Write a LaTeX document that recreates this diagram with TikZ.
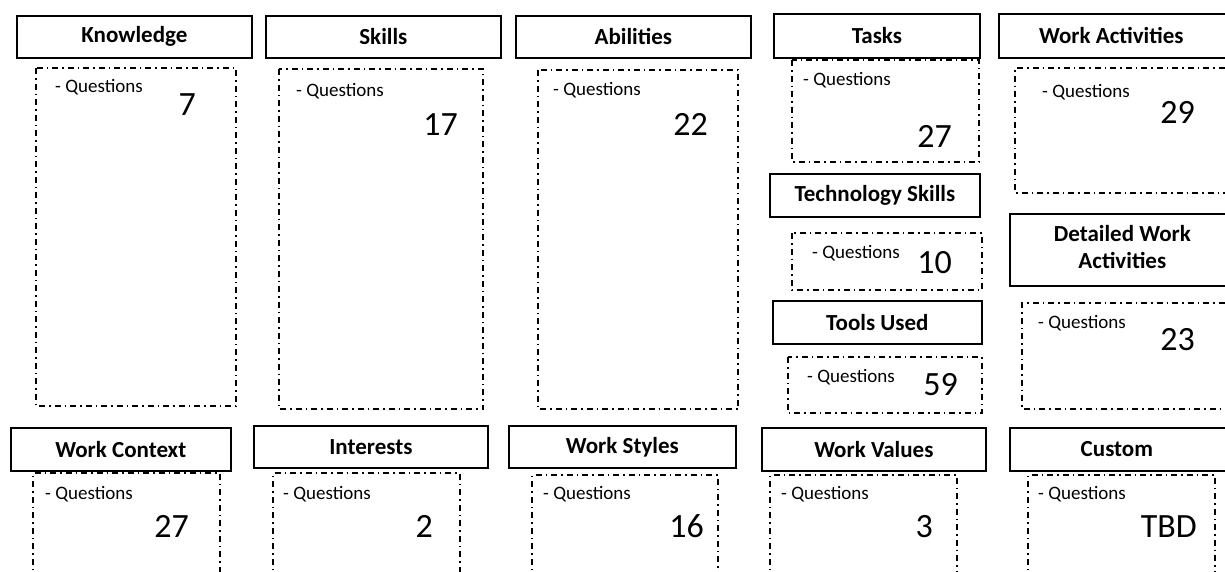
\documentclass[tikz,border=0pt]{standalone}
\usepackage{fontspec}
\setmainfont{Carlito}
\newcommand\ttlfont{\fontsize{23}{25}\selectfont\bfseries}
\begin{document}
\begin{tikzpicture}[x=1pt,y=-1pt,
  titlebox/.style={draw=black, line width=1.7pt, anchor=north west, inner sep=0pt},
  dd/.style={draw=black, line width=1.5pt, dash pattern=on 6pt off 4pt on 1.5pt off 4pt},
  qtext/.style={anchor=base west, inner sep=0pt, font=\fontsize{19}{22}\selectfont},
  num/.style={anchor=base east, inner sep=0pt, font=\fontsize{34}{38}\selectfont}]
\useasboundingbox[fill=white] (0,0) rectangle (1225,571);

% ---- Row 1 ----
\node[titlebox, minimum width=235pt, minimum height=42pt] (kT) at (16,15) {\ttlfont Knowledge};
\draw[dd] (36,68) rectangle (236,406);
\node[qtext] (kq) at (55,92) {- Questions};
\node[num] (kn) at (196,115) {7};

\node[titlebox, minimum width=235pt, minimum height=42pt] (sT) at (265,15) {\ttlfont Skills};
\draw[dd] (279,69) rectangle (483,409);
\node[qtext] (sq) at (296,96) {- Questions};
\node[num] (sn) at (458,135) {17};

\node[titlebox, minimum width=235pt, minimum height=42pt] (aT) at (515,15) {\ttlfont Abilities};
\draw[dd] (538,70) rectangle (738,409);
\node[qtext] (aq) at (553,95) {- Questions};
\node[num] (an) at (708,135) {22};

% ---- Tasks column ----
\node[titlebox, minimum width=206pt, minimum height=44pt] (tT) at (773,13) {\ttlfont Tasks};
\draw[dd] (792,60) rectangle (979,162);
\node[qtext] (tq) at (803,85) {- Questions};
\node[num] (tn) at (952,147) {27};

\node[titlebox, minimum width=210pt, minimum height=43pt] (tsT) at (769,173) {\ttlfont Technology Skills};
\draw[dd] (792,233) rectangle (982,290);
\node[qtext] (tsq) at (812,258) {- Questions};
\node[num] (tsn) at (952,273) {10};

\node[titlebox, minimum width=209pt, minimum height=43pt] (tuT) at (772,300) {\ttlfont Tools Used};
\draw[dd] (788,357) rectangle (982,413);
\node[qtext] (tuq) at (807,382) {- Questions};
\node[num] (tun) at (958,395) {59};

% ---- Work activities column (cut at right edge) ----
\node[titlebox, minimum width=240pt, minimum height=44pt] (waT) at (998,13) {\ttlfont\hspace*{-15pt}Work Activities};
\draw[dd] (1240,68) -- (1015,68) -- (1015,193) -- (1240,193);
\node[qtext] (waq) at (1042,97) {- Questions};
\node[num] (wan) at (1195,123) {29};

\node[titlebox, minimum width=240pt, minimum height=72pt] (dwT) at (1009,213) {\ttlfont\hspace*{-15pt}\begin{tabular}{@{}c@{}}Detailed Work\\[2pt]Activities\end{tabular}};
\draw[dd] (1240,303) -- (1022,303) -- (1022,409) -- (1240,409);
\node[qtext] (dwq) at (1038,328) {- Questions};
\node[num] (dwn) at (1195,350) {23};

% ---- Row 3 ----
\node[titlebox, minimum width=220pt, minimum height=43pt] (wcT) at (10,427) {\ttlfont Work Context};
\draw[dd] (33,580) -- (33,473) -- (220,473) -- (220,580);
\node[qtext] (wcq) at (45,499) {- Questions};
\node[num] (wcn) at (189,537) {27};

\node[titlebox, minimum width=234pt, minimum height=42pt] (inT) at (253,425) {\ttlfont Interests};
\draw[dd] (273,580) -- (273,473) -- (460,473) -- (460,580);
\node[qtext] (inq) at (283,499) {- Questions};
\node[num] (inn) at (433,537) {2};

\node[titlebox, minimum width=227pt, minimum height=42pt] (wsT) at (508,425) {\ttlfont Work Styles};
\draw[dd] (532,580) -- (532,475) -- (718,475) -- (718,580);
\node[qtext] (wsq) at (543,499) {- Questions};
\node[num] (wsn) at (704,537) {16};

\node[titlebox, minimum width=224pt, minimum height=43pt] (wvT) at (761,427) {\ttlfont Work Values};
\draw[dd] (770,580) -- (770,475) -- (957,475) -- (957,580);
\node[qtext] (wvq) at (781,499) {- Questions};
\node[num] (wvn) at (933,537) {3};

\node[titlebox, minimum width=240pt, minimum height=43pt] (cuT) at (1009,427) {\ttlfont\hspace*{-26pt}Custom};
\draw[dd] (1028,580) -- (1028,475) -- (1215,475) -- (1215,580);
\node[qtext] (cuq) at (1038,499) {- Questions};
\node[num] (cun) at (1197,537) {TBD};
\end{tikzpicture}
\end{document}
